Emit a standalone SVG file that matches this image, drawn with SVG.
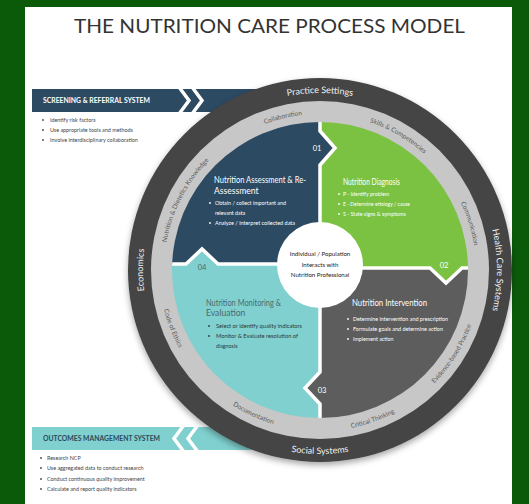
<svg xmlns="http://www.w3.org/2000/svg" xmlns:xlink="http://www.w3.org/1999/xlink" width="529" height="504" viewBox="0 0 529 504">
<defs>
<style>
.t{font-family:Lato,"Open Sans","Liberation Sans",sans-serif}
.ttl{font-size:8.6px;fill:#fff}
.b{font-size:5.3px;fill:#fff}
.side{font-size:5.4px;fill:#444}
.lbl{font-size:7.5px;fill:#fff;text-anchor:middle}
.dk{font-size:9px;fill:#f2f2f2}
.lt{font-size:6.5px;fill:#5a5a5a}
.ctr{font-size:6.1px;fill:#222;text-anchor:middle}
.div{fill:none;stroke:#fff;stroke-width:3.5;stroke-linejoin:miter}
.chev{fill:none;stroke:#fff;stroke-width:3.5}
</style>
<clipPath id="inner"><circle cx="320" cy="270" r="148"/></clipPath>
<filter id="sh" x="-10%" y="-10%" width="120%" height="125%"><feDropShadow dx="0" dy="3" stdDeviation="3" flood-color="#000" flood-opacity="0.35"/></filter>
<path id="cwD" d="M320,447 A177,177 0 1 1 320,93 A177,177 0 1 1 320,447"/>
<path id="ccwD" d="M320,86 A184,184 0 1 0 320,454 A184,184 0 1 0 320,86"/>
<path id="cwL" d="M320,426 A156,156 0 1 1 320,114 A156,156 0 1 1 320,426"/>
<path id="ccwL" d="M320,109 A161,161 0 1 0 320,431 A161,161 0 1 0 320,109"/>
</defs>
<rect width="529" height="504" fill="#0a5a0a"/>
<rect x="25" y="7" width="487" height="497" fill="#fff"/>
<text class="t" x="269.5" y="33" font-size="20" fill="#333" text-anchor="middle" textLength="391" lengthAdjust="spacingAndGlyphs">THE NUTRITION CARE PROCESS MODEL</text>

<g id="screening">
<rect x="32" y="89" width="240" height="23" fill="#2d4a63"/>
<polyline class="chev" points="179,87 189,100.5 179,114"/>
<polyline class="chev" points="192,87 202,100.5 192,114"/>
<text class="t" x="43" y="103" font-size="6.5" font-weight="bold" fill="#fff" textLength="107" lengthAdjust="spacingAndGlyphs">SCREENING &amp; REFERRAL SYSTEM</text>
<circle cx="43" cy="120" r="0.9" fill="#444"/><text class="t side" x="50" y="122">Identify risk factors</text>
<circle cx="43" cy="130" r="0.9" fill="#444"/><text class="t side" x="50" y="132">Use appropriate tools and methods</text>
<circle cx="43" cy="140" r="0.9" fill="#444"/><text class="t side" x="50" y="142">Involve interdisciplinary collaboration</text>
</g>

<g id="outcomes">
<rect x="32" y="427" width="240" height="23" fill="#7fd0cf"/>
<polyline class="chev" points="184,425 174,438.5 184,452"/>
<polyline class="chev" points="198,425 188,438.5 198,452"/>
<text class="t" x="43" y="441" font-size="6.5" font-weight="bold" fill="#2d4a5a" textLength="117" lengthAdjust="spacingAndGlyphs">OUTCOMES MANAGEMENT SYSTEM</text>
<circle cx="41" cy="458" r="0.9" fill="#444"/><text class="t side" x="47" y="460">Research NCP</text>
<circle cx="41" cy="468" r="0.9" fill="#444"/><text class="t side" x="47" y="470">Use aggregated data to conduct research</text>
<circle cx="41" cy="479" r="0.9" fill="#444"/><text class="t side" x="47" y="481">Conduct continuous quality improvement</text>
<circle cx="41" cy="489" r="0.9" fill="#444"/><text class="t side" x="47" y="491">Calculate and report quality indicators</text>
</g>

<g id="outer-ring">
<circle cx="320" cy="270" r="192" fill="#444" filter="url(#sh)"/>
<text class="t dk"><textPath href="#cwD" startOffset="50%" text-anchor="middle">Practice Settings</textPath></text>
<text class="t dk"><textPath href="#cwD" startOffset="75%" text-anchor="middle">Health Care Systems</textPath></text>
<text class="t dk"><textPath href="#cwD" startOffset="25%" text-anchor="middle">Economics</textPath></text>
<text class="t dk"><textPath href="#ccwD" startOffset="50%" text-anchor="middle">Social Systems</textPath></text>
</g>

<g id="middle-ring">
<circle cx="320" cy="270" r="169" fill="#c7c7c7"/>
<text class="t lt"><textPath href="#cwL" startOffset="46.2%" text-anchor="middle">Collaboration</textPath></text>
<text class="t lt"><textPath href="#cwL" startOffset="58.4%" text-anchor="middle">Skills &amp; Competencies</textPath></text>
<text class="t lt"><textPath href="#cwL" startOffset="70.2%" text-anchor="middle">Communication</textPath></text>
<text class="t lt"><textPath href="#cwL" startOffset="32.6%" text-anchor="middle">Nutrition &amp; Dietetics Knowledge</textPath></text>
<text class="t lt"><textPath href="#ccwL" startOffset="66%" text-anchor="middle">Evidence-based Practice</textPath></text>
<text class="t lt"><textPath href="#ccwL" startOffset="55.4%" text-anchor="middle">Critical Thinking</textPath></text>
<text class="t lt"><textPath href="#ccwL" startOffset="43.1%" text-anchor="middle">Documentation</textPath></text>
<text class="t lt"><textPath href="#ccwL" startOffset="31%" text-anchor="middle">Code of Ethics</textPath></text>
</g>

<g id="assessment">
<polygon clip-path="url(#inner)" fill="#2d4a63" points="100,50 320,50 320,131 335,148 320,165 320,264 218,264 202,249 186,264 100,264"/>
<text class="t ttl" x="214" y="183" textLength="92" lengthAdjust="spacingAndGlyphs">Nutrition Assessment &amp; Re-</text>
<text class="t ttl" x="214" y="194">Assessment</text>
<circle cx="210" cy="203" r="0.9" fill="#fff"/><text class="t b" x="215" y="205" textLength="71" lengthAdjust="spacingAndGlyphs">Obtain / collect important and</text>
<text class="t b" x="215" y="215">relevant data</text>
<circle cx="210" cy="223" r="0.9" fill="#fff"/><text class="t b" x="215" y="225" textLength="80" lengthAdjust="spacingAndGlyphs">Analyze / interpret collected data</text>
<text class="t lbl" x="317" y="150.5">01</text>
</g>

<g id="diagnosis">
<polygon clip-path="url(#inner)" fill="#7cc242" points="320,50 540,50 540,268 462,268 446,283 430,268 320,268 320,165 335,148 320,131"/>
<text class="t ttl" x="343" y="185" textLength="57" lengthAdjust="spacingAndGlyphs">Nutrition Diagnosis</text>
<circle cx="339" cy="194" r="0.9" fill="#fff"/><text class="t b" x="343" y="196">P - Identify problem</text>
<circle cx="339" cy="204" r="0.9" fill="#fff"/><text class="t b" x="343" y="206" textLength="67" lengthAdjust="spacingAndGlyphs">E - Determine etiology / cause</text>
<circle cx="339" cy="214" r="0.9" fill="#fff"/><text class="t b" x="343" y="216">S - State signs &amp; symptoms</text>
<text class="t lbl" x="444" y="267.5">02</text>
</g>

<g id="intervention">
<polygon clip-path="url(#inner)" fill="#5d5d5d" points="320,268 430,268 446,283 462,268 540,268 540,490 320,490 320,404 305,388 320,372"/>
<text class="t ttl" x="352" y="306" textLength="75" lengthAdjust="spacingAndGlyphs">Nutrition Intervention</text>
<circle cx="348" cy="319" r="0.9" fill="#fff"/><text class="t b" x="353" y="321" textLength="95" lengthAdjust="spacingAndGlyphs">Determine intervention and prescription</text>
<circle cx="348" cy="329" r="0.9" fill="#fff"/><text class="t b" x="353" y="331" textLength="90" lengthAdjust="spacingAndGlyphs">Formulate goals and determine action</text>
<circle cx="348" cy="339" r="0.9" fill="#fff"/><text class="t b" x="353" y="341">Implement action</text>
<text class="t lbl" x="322" y="392.5">03</text>
</g>

<g id="monitoring">
<polygon clip-path="url(#inner)" fill="#7fd0cf" points="100,264 186,264 202,249 218,264 320,264 320,372 305,388 320,404 320,490 100,490"/>
<text class="t ttl" x="206" y="306" style="fill:#4a6b6d" textLength="75" lengthAdjust="spacingAndGlyphs">Nutrition Monitoring &amp;</text>
<text class="t ttl" x="206" y="315.5" style="fill:#4a6b6d">Evaluation</text>
<circle cx="209" cy="326" r="0.9" fill="#2a3a3a"/><text class="t b" x="216" y="328" style="fill:#2a3a3a" textLength="86" lengthAdjust="spacingAndGlyphs">Select or identify quality indicators</text>
<circle cx="209" cy="336" r="0.9" fill="#2a3a3a"/><text class="t b" x="216" y="338" style="fill:#2a3a3a" textLength="82" lengthAdjust="spacingAndGlyphs">Monitor &amp; Evaluate resolution of</text>
<text class="t b" x="216" y="348" style="fill:#2a3a3a">diagnosis</text>
<text class="t lbl" x="202" y="269.5" style="fill:#4a6b6d">04</text>
</g>

<g id="connectors" clip-path="url(#inner)">
<polyline class="div" points="320,110 320,131 335,148 320,165 320,268"/>
<polyline class="div" points="320,268 430,268 446,283 462,268 480,268"/>
<polyline class="div" points="320,264 320,372 305,388 320,404 320,430"/>
<polyline class="div" points="160,264 186,264 202,249 218,264 320,264"/>
</g>

<g id="center">
<circle cx="320" cy="265" r="43" fill="#fff"/>
<text class="t ctr" x="320" y="256">Individual / Population</text>
<text class="t ctr" x="320" y="266.5">Interacts with</text>
<text class="t ctr" x="320" y="277">Nutrition Professional</text>
</g>
</svg>
